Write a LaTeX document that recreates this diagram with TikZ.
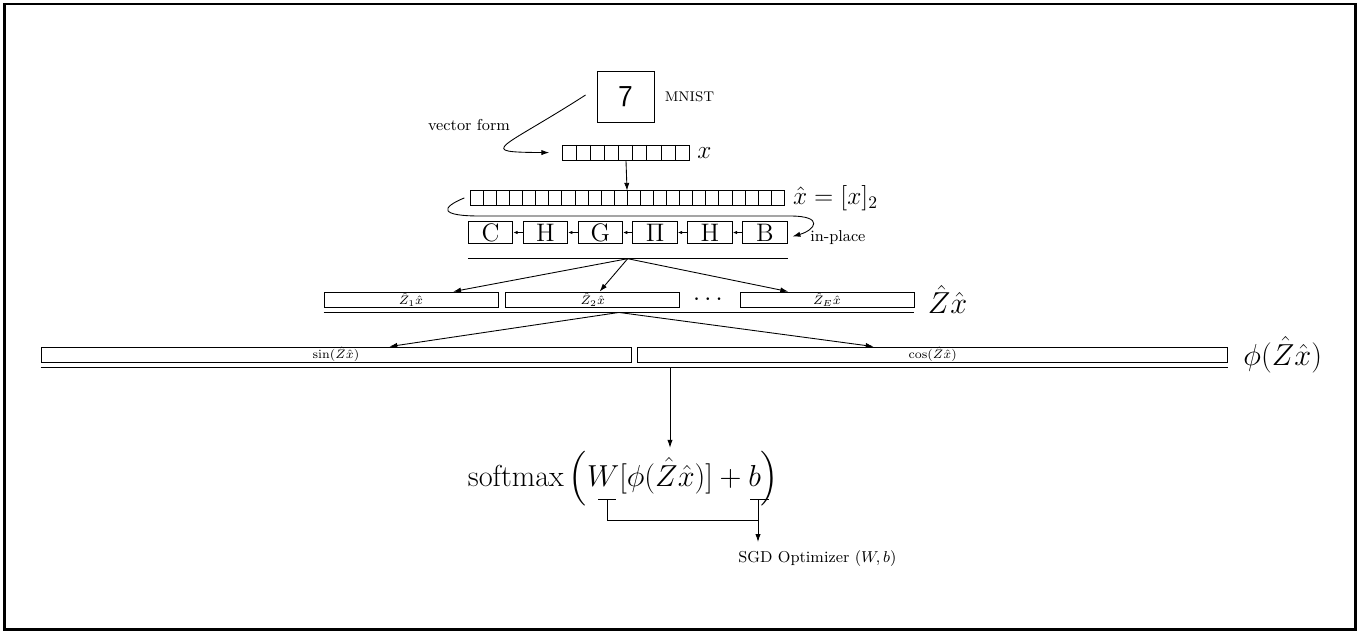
\documentclass[tikz,border=0pt]{standalone}
\usepackage{amsmath}
\usepackage{tikz}
\usetikzlibrary{arrows.meta, positioning, calc}

\begin{document}
\begin{tikzpicture}[
  x=0.02cm, y=-0.02cm,
  vecrow/.style={draw, line width=0.5pt, inner sep=0pt, outer sep=0pt},
  opbox/.style={draw, line width=0.5pt, minimum width=0.89cm, minimum height=0.43cm, inner sep=0pt, font=\Large},
  slab/.style={draw, line width=0.5pt, minimum height=0.3cm, inner sep=0pt, font=\scriptsize},
  tag/.style={font=\small, inner sep=0pt},
  arrow/.style={-{Latex[length=4.5pt,width=3pt]}, line width=0.5pt},
  oparrow/.style={-{Latex[length=2.5pt,width=2pt]}, line width=0.5pt},
  rule/.style={line width=0.9pt}
]
  \useasboundingbox (0,0) rectangle (1357,630);
  \draw[line width=1.2pt] (4.5,4) rectangle (1355.5,629.5);

  % input image and vectors
  \node[draw, line width=0.5pt, minimum width=1.14cm, minimum height=1.02cm, font=\sffamily\LARGE] (img) at (625.5,96.5) {7};
  \node[right=0.2cm of img, font=\footnotesize, inner sep=0pt] (mnist) {MNIST};
  \node[vecrow, minimum width=2.538cm, minimum height=0.306cm] (xvec) at (625.7,152.6) {};
  \foreach \i in {1,...,8}
    \draw[line width=0.5pt] ([xshift=\i*0.282cm]xvec.north west) -- ([xshift=\i*0.282cm]xvec.south west);
  \node[right=0.16cm of xvec, font=\Large, inner sep=0pt] (xlab) {$x$};
  \node[vecrow, minimum width=6.28cm, minimum height=0.286cm] (xhat) at (627.3,197.9) {};
  \foreach \i in {1,...,23}
    \draw[line width=0.5pt] ([xshift=\i*0.26167cm]xhat.north west) -- ([xshift=\i*0.26167cm]xhat.south west);
  \node[right=0.17cm of xhat, font=\Large, inner sep=0pt] (xhatlab) {$\hat{x}=[x]_2$};
  \node[tag] (vform) at (469,125) {vector form};
  \draw[arrow] ([xshift=-0.22cm,yshift=0.03cm]img.west) .. controls (500,150) and (475,152) .. ([xshift=-0.26cm]xvec.west);
  \draw[arrow] (xvec) -- (xhat);

  % structured transform
  \node[opbox] (opC) at (490.5,232.5) {C};
  \node[opbox, right=0.19cm of opC] (opH1) {H};
  \node[opbox, right=0.19cm of opH1] (opG) {G};
  \node[opbox, right=0.19cm of opG] (opPi) {$\Pi$};
  \node[opbox, right=0.19cm of opPi] (opH2) {H};
  \node[opbox, right=0.19cm of opH2] (opB) {B};
  \draw[oparrow] (opB) -- (opH2);
  \draw[oparrow] (opH2) -- (opPi);
  \draw[oparrow] (opPi) -- (opG);
  \draw[oparrow] (opG) -- (opH1);
  \draw[oparrow] (opH1) -- (opC);
  \node[tag, anchor=west] (inplace) at (810,237.5) {in-place};
  \draw[arrow] ([xshift=-0.12cm]xhat.west) .. controls (440,208) and (440,216) .. (480,216)
    -- (790,216) .. controls (825,216) and (815,230) .. ([xshift=0.1cm,yshift=-0.08cm]opB.east);
  \draw[rule] ([yshift=-0.3cm]opC.south west) -- coordinate (opmid) ([yshift=-0.3cm]opB.south east);

  % stacked blocks
  \node[slab, minimum width=3.48cm] (z1) at (411,299.5) {$\hat{Z}_1\hat{x}$};
  \node[slab, minimum width=3.48cm, right=0.14cm of z1] (z2) {$\hat{Z}_2\hat{x}$};
  \node[slab, minimum width=3.48cm] (zE) at (827,299.5) {$\hat{Z}_E\hat{x}$};
  \node[font=\Large, inner sep=0pt] (zdots) at ($(z2.east)!0.5!(zE.west)$) {$\cdots$};
  \node[right=0.26cm of zE, font=\LARGE, inner sep=0pt] (zlab) {$\hat{Z}\hat{x}$};
  \draw[arrow] (opmid) -- (z1);
  \draw[arrow] (opmid) -- (z2);
  \draw[arrow] (opmid) -- (zE);
  \draw[rule] ([yshift=-0.1cm]z1.south west) -- coordinate (zmid) ([yshift=-0.1cm]zE.south east);

  % features
  \node[slab, minimum width=11.8cm] (sinbox) at (336,354.5) {$\sin(\hat{Z}\hat{x})$};
  \node[slab, minimum width=11.8cm, right=0.12cm of sinbox] (cosbox) {$\cos(\hat{Z}\hat{x})$};
  \node[right=0.3cm of cosbox, font=\LARGE, inner sep=0pt] (philab) {$\phi(\hat{Z}\hat{x})$};
  \draw[arrow] (zmid) -- (sinbox);
  \draw[arrow] (zmid) -- (cosbox);
  \draw[rule] ([yshift=-0.1cm]sinbox.south west) -- coordinate[pos=0.53] (phiout) ([yshift=-0.1cm]cosbox.south east);

  % classifier
  \node[font=\LARGE, inner sep=2pt] (soft) at (623.5,479) {$\mathrm{softmax}\left(W[\phi(\hat{Z}\hat{x})]+b\right)$};
  \draw[arrow] (phiout) -- (phiout |- soft.north);
  \coordinate (wtick) at (607,499);
  \coordinate (btick) at (758,499);
  \coordinate (join) at (758,520);
  \node[tag, anchor=north west] (sgd) at (738,550) {SGD Optimizer $(W,b)$};
  \draw[line width=0.5pt] ([xshift=-0.18cm]wtick) -- ([xshift=0.18cm]wtick);
  \draw[line width=0.5pt] ([xshift=-0.16cm]btick) -- ([xshift=0.22cm]btick);
  \draw[line width=0.5pt] (wtick) |- (join);
  \draw[arrow] (btick) -- ($(btick |- sgd.north)+(0,-8)$);
\end{tikzpicture}
\end{document}
